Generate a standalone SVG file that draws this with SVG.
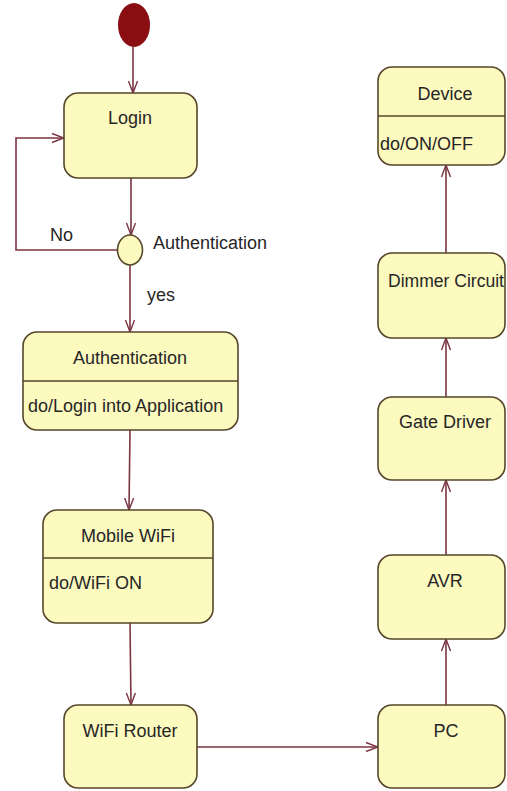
<svg xmlns="http://www.w3.org/2000/svg" width="507" height="791" viewBox="0 0 507 791">
<style>
.st{fill:#fdfac0;stroke:#55462a;stroke-width:1.6}
.dv{stroke:#55462a;stroke-width:1.6}
.c{fill:none;stroke:#7a3540;stroke-width:1.6}
text{font-family:"Liberation Sans",Arial,sans-serif;font-size:18px;fill:#262626}
.m{text-anchor:middle}
</style>
<defs>
<marker id="a" markerUnits="userSpaceOnUse" markerWidth="14" markerHeight="12" refX="13" refY="6" orient="auto">
<path d="M1,1.5 L13,6 L1,10.5" fill="none" stroke="#7a3540" stroke-width="1.4"/>
</marker>
</defs>
<rect width="507" height="791" fill="#ffffff"/>
<g id="connectors">
<path class="c" d="M133,47 L133,93" marker-end="url(#a)"/>
<path class="c" d="M131,178 L131,235" marker-end="url(#a)"/>
<path class="c" d="M118,250 L16,250 L16,138 L64,138" marker-end="url(#a)"/>
<path class="c" d="M130,265 L130,332" marker-end="url(#a)"/>
<path class="c" d="M130,430 L129,510" marker-end="url(#a)"/>
<path class="c" d="M130,623 L131,705" marker-end="url(#a)"/>
<path class="c" d="M197,747 L378,747" marker-end="url(#a)"/>
<path class="c" d="M446,705 L446,639" marker-end="url(#a)"/>
<path class="c" d="M446,555 L446,480" marker-end="url(#a)"/>
<path class="c" d="M446,397 L446,338" marker-end="url(#a)"/>
<path class="c" d="M446,253 L446,165" marker-end="url(#a)"/>
<text x="50" y="241">No</text>
<text x="147" y="301">yes</text>
</g>
<g id="initial">
<ellipse cx="134" cy="25" rx="16" ry="22" fill="#8a0d12"/>
</g>
<g id="login">
<rect class="st" x="64" y="93" width="133" height="85" rx="14"/>
<text class="m" x="130" y="124">Login</text>
</g>
<g id="decision">
<ellipse class="st" cx="130" cy="250" rx="12.5" ry="15"/>
<text x="153" y="249">Authentication</text>
</g>
<g id="authentication">
<rect class="st" x="23" y="332" width="215" height="98" rx="14"/>
<line class="dv" x1="23" y1="381" x2="238" y2="381"/>
<text class="m" x="130" y="364">Authentication</text>
<text x="28" y="412">do/Login into Application</text>
</g>
<g id="mobile-wifi">
<rect class="st" x="43" y="510" width="170" height="113" rx="14"/>
<line class="dv" x1="43" y1="558" x2="213" y2="558"/>
<text class="m" x="128" y="542">Mobile WiFi</text>
<text x="49" y="589">do/WiFi ON</text>
</g>
<g id="wifi-router">
<rect class="st" x="64" y="705" width="133" height="83" rx="14"/>
<text class="m" x="130" y="737">WiFi Router</text>
</g>
<g id="pc">
<rect class="st" x="378" y="705" width="127" height="83" rx="14"/>
<text class="m" x="446" y="737">PC</text>
</g>
<g id="avr">
<rect class="st" x="378" y="555" width="127" height="84" rx="14"/>
<text class="m" x="445" y="587">AVR</text>
</g>
<g id="gate-driver">
<rect class="st" x="378" y="397" width="127" height="83" rx="14"/>
<text class="m" x="445" y="428">Gate Driver</text>
</g>
<g id="dimmer-circuit">
<rect class="st" x="378" y="253" width="127" height="85" rx="14"/>
<text class="m" x="446" y="287" textLength="116" lengthAdjust="spacingAndGlyphs">Dimmer Circuit</text>
</g>
<g id="device">
<rect class="st" x="378" y="67" width="127" height="98" rx="14"/>
<line class="dv" x1="378" y1="116" x2="505" y2="116"/>
<text class="m" x="445" y="100">Device</text>
<text x="380" y="150">do/ON/OFF</text>
</g>
</svg>
